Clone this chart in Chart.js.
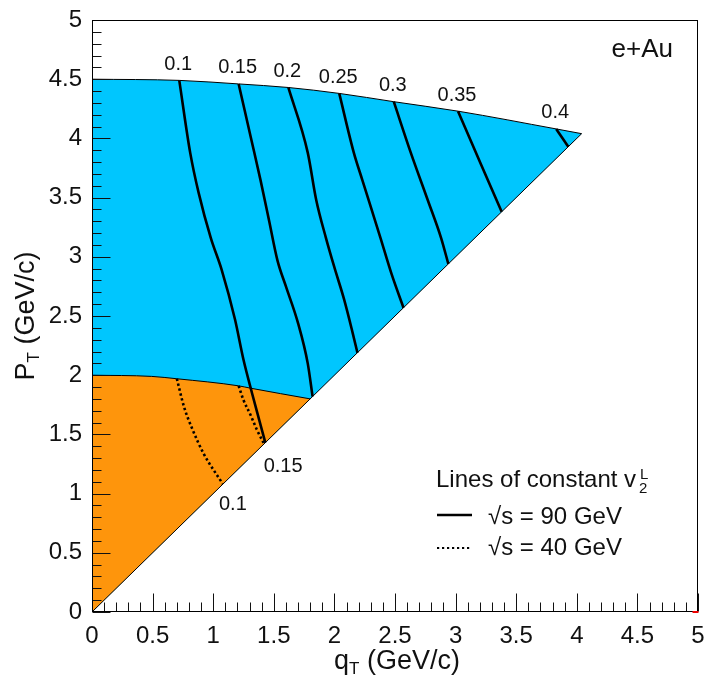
<!DOCTYPE html>
<html>
<head>
<meta charset="utf-8">
<script src="https://cdn.jsdelivr.net/npm/chart.js@4.4.0/dist/chart.umd.min.js"></script>
<style>
html,body{margin:0;padding:0;background:#fff;}
#wrap{width:705px;height:682px;}
</style>
</head>
<body>
<div id="wrap"><canvas id="chart"></canvas></div>
<script>
// lines of constant v2^L in the (qT, PT) plane, e+Au
const axisTicks = [0, 0.5, 1, 1.5, 2, 2.5, 3, 3.5, 4, 4.5, 5];
const tickLabels = ['0','0.5','1','1.5','2','2.5','3','3.5','4','4.5','5'];

// kinematic reach: upper edge of each region (qT, PT)
const reach90 = [[0,4.5],[0.72,4.49],[1.21,4.46],[1.62,4.43],[2.04,4.38],[2.49,4.31],[3.02,4.23],[3.83,4.08],[4.04,4.04]];
const reach40 = [[0,2.0],[0.49,1.99],[0.70,1.97],[1.21,1.91],[1.31,1.89],[1.80,1.80]];
const diagonal = [[0,0],[4.04,4.04]];

// sqrt(s) = 90 GeV contours
const levels90 = ['0.1','0.15','0.2','0.25','0.3','0.35','0.4'];
const v90_010 = [[0.72,4.49],[0.81,3.88],[0.88,3.54],[0.98,3.16],[1.07,2.89],[1.18,2.47],[1.25,2.13],[1.32,1.85],[1.38,1.62],[1.43,1.43]];
const v90_015 = [[1.21,4.46],[1.31,4.01],[1.39,3.65],[1.46,3.31],[1.53,2.97],[1.60,2.75],[1.70,2.44],[1.78,2.10],[1.82,1.82]];
const v90_020 = [[1.62,4.43],[1.78,3.88],[1.85,3.48],[1.93,3.16],[2.00,2.91],[2.08,2.64],[2.15,2.36],[2.19,2.19]];
const v90_025 = [[2.04,4.38],[2.16,3.88],[2.23,3.65],[2.38,3.16],[2.47,2.86],[2.57,2.57]];
const v90_030 = [[2.49,4.31],[2.63,3.88],[2.77,3.48],[2.88,3.16],[2.94,2.94]];
const v90_035 = [[3.02,4.23],[3.21,3.78],[3.38,3.38]];
const v90_040 = [[3.83,4.08],[3.93,3.93]];
const lines90 = [v90_010, v90_015, v90_020, v90_025, v90_030, v90_035, v90_040];

// sqrt(s) = 40 GeV contours
const levels40 = ['0.1','0.15'];
const v40_010 = [[0.70,1.97],[0.76,1.73],[0.83,1.54],[0.92,1.34],[1.08,1.08]];
const v40_015 = [[1.21,1.91],[1.25,1.79],[1.31,1.66],[1.36,1.54],[1.42,1.42]];
const lines40 = [v40_010, v40_015];

const pts = a => a.map(p => ({x:p[0], y:p[1]}));
const FONT = 'Liberation Sans, Arial, Helvetica, sans-serif';

const datasets = [
  {data:pts(reach90), borderColor:'#000', borderWidth:1, backgroundColor:'#00c6fe', fill:2, order:5},
  {data:pts(reach40), borderColor:'#000', borderWidth:1, backgroundColor:'#fe950c', fill:2, order:4},
  {data:pts(diagonal), borderColor:'#000', borderWidth:1, fill:false, order:3}
];
lines90.forEach(l => datasets.push({data:pts(l), borderColor:'#000', borderWidth:2.6, fill:false, order:1}));
lines40.forEach(l => datasets.push({data:pts(l), borderColor:'#000', borderWidth:2.6, borderDash:[2.4,2.6], fill:false, order:1}));

function subText(ctx, parts, x, y, align){
  // parts: [text, size, dy]
  let w = 0;
  parts.forEach(p => { ctx.font = p[1]+'px '+FONT; w += ctx.measureText(p[0]).width; });
  let cx = align === 'center' ? x - w/2 : (align === 'right' ? x - w : x);
  parts.forEach(p => {
    ctx.font = p[1]+'px '+FONT;
    ctx.fillText(p[0], cx, y + p[2]);
    cx += ctx.measureText(p[0]).width;
  });
  return cx;
}

const overlay = {
  id:'overlay',
  afterDatasetsDraw(chart){
    const {ctx, chartArea:a, scales:{x, y}} = chart;
    const L = Math.round(a.left)+0.5, R = Math.round(a.right)-0.5, T = Math.round(a.top)+0.5, B = Math.round(a.bottom)-0.5;
    ctx.save();
    // ticks, pointing inwards
    ctx.strokeStyle = '#111'; ctx.lineWidth = 1;
    ctx.beginPath();
    for(let i=0;i<=50;i++){
      const v = i/10, len = i%5===0 ? 18 : 9;
      const px = Math.round(x.getPixelForValue(v))+0.5;
      ctx.moveTo(px, B); ctx.lineTo(px, B-len);
      const py = Math.round(y.getPixelForValue(v))+0.5;
      ctx.moveTo(L, py); ctx.lineTo(L+len, py);
    }
    ctx.stroke();
    ctx.strokeStyle = '#000';
    ctx.strokeRect(L, T, R-L, B-T);
    ctx.fillStyle = '#e00';
    ctx.fillRect(R-5, B-0.5, 6, 2);

    ctx.fillStyle = '#111';
    ctx.textBaseline = 'middle';
    // contour labels
    ctx.textAlign = 'center';
    ctx.font = '20px '+FONT;
    lines90.forEach((l,i) => {
      ctx.fillText(levels90[i], x.getPixelForValue(l[0][0]) - 1, y.getPixelForValue(l[0][1]) - 16);
    });
    const off40 = [[10,20],[19,23]];
    lines40.forEach((l,i) => {
      const e = l[l.length-1];
      ctx.fillText(levels40[i], x.getPixelForValue(e[0]) + off40[i][0], y.getPixelForValue(e[1]) + off40[i][1]);
    });

    // axis titles
    ctx.textAlign = 'left';
    subText(ctx, [['q',27,0],['T',17,7],[' (GeV/c)',27,0]], (a.left+a.right)/2 + 2, 662, 'center');
    ctx.save();
    ctx.translate(27, (a.top+a.bottom)/2);
    ctx.rotate(-Math.PI/2);
    subText(ctx, [['P',27,0],['T',17,7],[' (GeV/c)',27,0]], 0, 0, 'center');
    ctx.restore();

    // e+Au
    ctx.font = '26px '+FONT;
    ctx.textAlign = 'right';
    ctx.fillText('e+Au', 673, 50);

    // legend
    ctx.textAlign = 'left';
    const vEnd = subText(ctx, [['Lines of constant v',24,0]], 436, 480, 'left');
    ctx.font = '15px '+FONT;
    ctx.fillText('L', vEnd + 4, 475);
    ctx.fillText('2', vEnd + 3, 489);
    ctx.font = '24px '+FONT;
    ctx.fillText('\u221As = 90 GeV', 488, 517);
    ctx.fillText('\u221As = 40 GeV', 488, 548);
    ctx.strokeStyle = '#000';
    ctx.lineWidth = 2.6;
    ctx.beginPath(); ctx.moveTo(437, 515); ctx.lineTo(472, 515); ctx.stroke();
    ctx.lineWidth = 2.2;
    ctx.setLineDash([2.2,2.8]);
    ctx.beginPath(); ctx.moveTo(437, 548); ctx.lineTo(472, 548); ctx.stroke();
    ctx.restore();
  }
};

new Chart(document.getElementById('chart'), {
  type:'line',
  data:{datasets},
  options:{
    responsive:true,
    maintainAspectRatio:false,
    animation:false,
    layout:{padding:{top:20, right:7, left:0, bottom:0}},
    elements:{point:{radius:0}, line:{cubicInterpolationMode:'monotone'}},
    plugins:{legend:{display:false}, tooltip:{enabled:false}},
    scales:{
      x:{
        type:'linear', min:0, max:5,
        afterBuildTicks:s => { s.ticks = axisTicks.map(v => ({value:v})); },
        afterFit:s => { s.height = 70; s.paddingLeft = 0; s.paddingRight = 0; },
        grid:{display:false, drawTicks:false},
        border:{display:false},
        ticks:{font:{family:FONT, size:24}, color:'#111', padding:10, maxRotation:0, autoSkip:false,
               callback:(v, i) => tickLabels[i]}
      },
      y:{
        type:'linear', min:0, max:5,
        afterBuildTicks:s => { s.ticks = axisTicks.map(v => ({value:v})); },
        afterFit:s => { s.width = 92; s.paddingTop = 0; s.paddingBottom = 0; },
        grid:{display:false, drawTicks:false},
        border:{display:false},
        ticks:{font:{family:FONT, size:24}, color:'#111', padding:10, autoSkip:false,
               callback:(v, i) => tickLabels[i]}
      }
    }
  },
  plugins:[overlay]
});
</script>
</body>
</html>
